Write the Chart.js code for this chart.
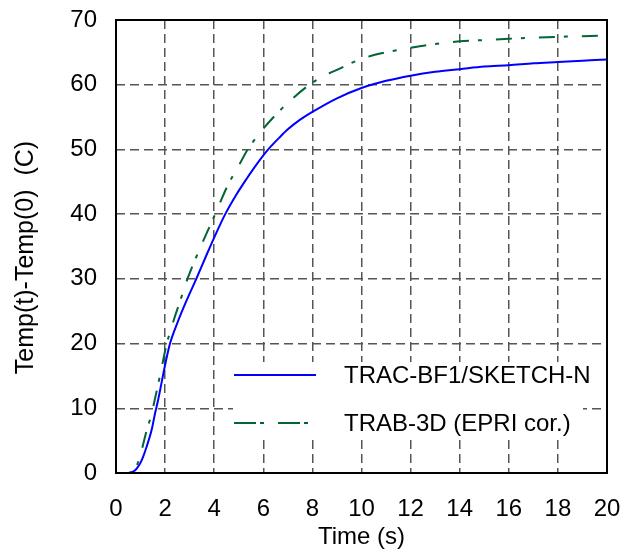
<!DOCTYPE html>
<html>
<head>
<meta charset="utf-8">
<script src="https://cdn.jsdelivr.net/npm/chart.js@4/dist/chart.umd.min.js"></script>
<style>
  html, body { margin: 0; padding: 0; background: #fff; }
  #wrap { width: 632px; height: 552px; }
</style>
</head>
<body>
<div id="wrap"><canvas id="c" width="632" height="552"></canvas></div>
<script>
// ---- data ----
const seriesNames = ['TRAC-BF1/SKETCH-N', 'TRAB-3D (EPRI cor.)'];

const timeBlue = [0, 0.5, 0.7, 0.85, 1.05, 1.25, 1.46, 1.6, 1.7, 2.0, 2.2, 2.5, 2.88, 3.27, 3.7, 4.11, 4.45, 4.9, 5.31, 5.75, 6.2, 6.7, 7, 7.5, 8, 9, 10, 11, 12, 13, 14, 15, 16, 17, 18, 19, 20];
const tempBlue = [0, 0, 0.2, 0.7, 2.0, 4.1, 6.8, 9.4, 11, 16.7, 20, 23.2, 26.7, 30, 33.8, 37.3, 40, 43.0, 45.4, 47.8, 50, 52, 53.1, 54.6, 55.8, 57.9, 59.5, 60.6, 61.4, 62, 62.4, 62.8, 63.0, 63.3, 63.5, 63.7, 63.9];

const timeGreen = [0, 0.5, 0.64, 0.85, 1.05, 1.25, 1.42, 1.52, 1.8, 2.07, 2.35, 2.64, 2.91, 3.5, 4.04, 4.52, 5.0, 5.37, 6, 6.62, 7, 7.88, 8.5, 9, 10, 11, 12, 13, 14, 15, 16, 18, 20];
const tempGreen = [0, 0, 0.15, 1.2, 3.6, 6.6, 8.7, 10.3, 15.2, 20, 23.6, 26.9, 30, 35.4, 40, 44.2, 47.5, 50, 53.2, 55.8, 57.2, 60, 61.4, 62.3, 64.0, 65, 65.7, 66.3, 66.7, 66.9, 67.1, 67.4, 67.6];

const xTicks = [0, 2, 4, 6, 8, 10, 12, 14, 16, 18, 20];
const yTicks = [0, 10, 20, 30, 40, 50, 60, 70];

const xTitle = 'Time (s)';
const yTitle = 'Temp(t)-Temp(0)  (C)';

// ---- build ----
const pts = (xs, ys) => xs.map((x, i) => ({ x: x, y: ys[i] }));
const FONT = "'Liberation Sans', Arial, sans-serif";

const frameAndLegend = {
  id: 'frameAndLegend',
  afterDatasetsDraw(chart) {
    const ctx = chart.ctx;
    const a = chart.chartArea;
    // legend box (white, covers grid)
    const bx = a.left + 117, bw = a.right - 24 - bx;
    const by = a.bottom - 111, bh = 74;
    ctx.save();
    ctx.fillStyle = '#ffffff';
    ctx.fillRect(bx, by, bw, bh);
    chart.data.datasets.forEach((ds, i) => {
      const yy = by + 13 + i * 48;
      ctx.beginPath();
      ctx.strokeStyle = ds.borderColor;
      ctx.lineWidth = ds.borderWidth;
      ctx.setLineDash(i === 0 ? [] : [22, 4, 4, 14]);
      ctx.moveTo(bx + 1, yy);
      ctx.lineTo(bx + 83, yy);
      ctx.stroke();
      ctx.setLineDash([]);
      ctx.fillStyle = '#000';
      ctx.font = '24px ' + FONT;
      ctx.textBaseline = 'middle';
      ctx.textAlign = 'left';
      ctx.fillText(ds.label, bx + 111, yy + 1);
    });
    // frame
    ctx.strokeStyle = '#000';
    ctx.lineWidth = 2;
    ctx.strokeRect(a.left, a.top, a.right - a.left, a.bottom - a.top);
    // y-axis title
    ctx.translate(26.5, (a.top + a.bottom) / 2 + 11);
    ctx.rotate(-Math.PI / 2);
    ctx.fillStyle = '#000';
    ctx.font = '25px ' + FONT;
    ctx.textAlign = 'center';
    ctx.textBaseline = 'middle';
    ctx.fillText(yTitle, 0, 0);
    ctx.restore();
  }
};

const noOverflow = (s) => { s.paddingTop = 0; s.paddingBottom = 0; s.paddingLeft = 0; s.paddingRight = 0; };

new Chart(document.getElementById('c'), {
  type: 'line',
  data: {
    datasets: [
      {
        label: seriesNames[0],
        data: pts(timeBlue, tempBlue),
        borderColor: '#0000ff',
        borderWidth: 2,
        pointRadius: 0,
        cubicInterpolationMode: 'monotone',
        fill: false
      },
      {
        label: seriesNames[1],
        data: pts(timeGreen, tempGreen),
        borderColor: '#006633',
        borderWidth: 2,
        borderDash: [16, 9, 4, 14],
        pointRadius: 0,
        cubicInterpolationMode: 'monotone',
        fill: false
      }
    ]
  },
  options: {
    responsive: false,
    animation: false,
    devicePixelRatio: 1,
    layout: { padding: { left: 0, right: 25, top: 20, bottom: 0 } },
    plugins: { legend: { display: false }, tooltip: { enabled: false }, title: { display: false } },
    scales: {
      x: {
        type: 'linear',
        min: 0, max: 20,
        afterBuildTicks: (s) => { s.ticks = xTicks.map(v => ({ value: v })); },
        afterFit: (s) => { s.height = 79; noOverflow(s); },
        ticks: { color: '#000', font: { family: FONT, size: 24 }, padding: 22, maxRotation: 0 },
        grid: { color: '#555555', lineWidth: 1.5, drawTicks: false },
        border: { display: false, dash: [9, 5] },
        title: { display: true, text: xTitle, color: '#000', font: { family: FONT, size: 24 }, padding: { top: 0, bottom: 0 } }
      },
      y: {
        type: 'linear',
        min: 0, max: 70,
        afterBuildTicks: (s) => { s.ticks = yTicks.map(v => ({ value: v })); },
        afterFit: (s) => { s.width = 116; noOverflow(s); },
        ticks: { color: '#000', font: { family: FONT, size: 24 }, padding: 19 },
        grid: { color: '#555555', lineWidth: 1.5, drawTicks: false },
        border: { display: false, dash: [9, 5] },
        title: { display: false, text: yTitle }
      }
    }
  },
  plugins: [frameAndLegend]
});
</script>
</body>
</html>
